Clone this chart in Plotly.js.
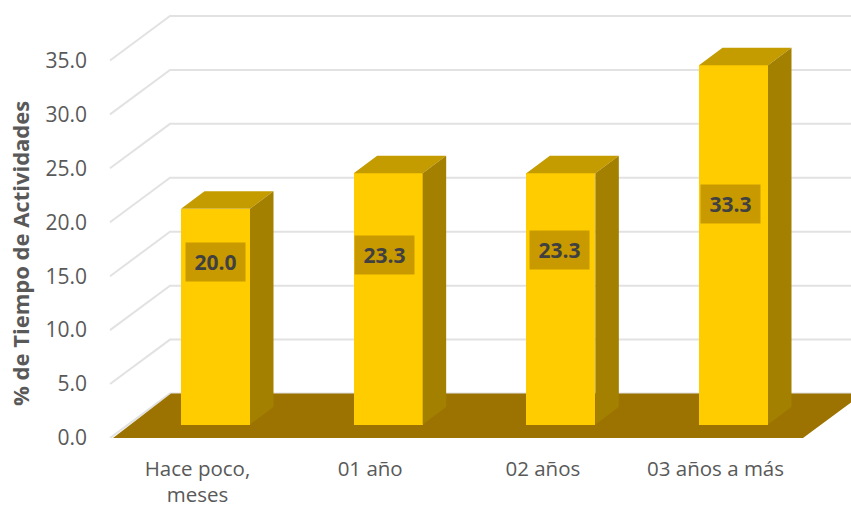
<!DOCTYPE html>
<html>
<head>
<meta charset="utf-8">
<script src="https://cdn.plot.ly/plotly-3.0.1.min.js"></script>
<style>html,body{margin:0;padding:0;background:#fff}#c{width:851px;height:507px}</style>
</head>
<body>
<div id="c"></div>
<script>
const categories = ["Hace poco,<br>meses", "01 año", "02 años", "03 años a más"];
const values = [20.0, 23.3, 23.3, 33.3];
const yTicks = [0, 5, 10, 15, 20, 25, 30, 35];

const pos = categories.map((_, i) => i);
const W = 851, H = 507;
const ml = 108, mt = 8, mb = 68.5;
const pxX = 172.67, pxY = 10.8, x0px = 215.5;
const xr = [(ml - x0px) / pxX, (W - x0px) / pxX];
const yr = [0, (H - mt - mb) / pxY];
const barW = 69 / pxX, barBase = 1.25;
const depX = 23.5 / pxX, depY = 17.5 / pxY;     // bar depth
const wallX = 60 / pxX, wallY = 44.5 / pxY;     // wall depth
const floorL = (113 - x0px) / pxX, floorR = (803 - x0px) / pxX;
const tickShift = -18 / pxX;
const labelDx = [-0.5, -3.5, -1.5, -3.5].map(d => d / pxX);
const labelY = [16.3, 17.0, 17.45, 21.7];

const GRID = "#e2e2e2", TXT = "#595959";
const FONT = "Open Sans, sans-serif";

function poly(xs, ys, color) {
  return {type: "scatter", mode: "lines", x: xs, y: ys, fill: "toself", fillcolor: color,
          line: {width: 0, color: color}, hoverinfo: "skip", showlegend: false};
}

const traces = [{
  type: "bar", x: pos, y: values, base: values.map(() => barBase), width: barW,
  marker: {color: "#ffcc00", line: {width: 0}}, hoverinfo: "skip", showlegend: false
}];
values.forEach((v, i) => {
  const l = pos[i] - barW / 2, r = pos[i] + barW / 2, t = v + barBase;
  traces.push(poly([l, r, r + depX, l + depX, l], [t, t, t + depY, t + depY, t], "#c49c00"));
  traces.push(poly([r, r + depX, r + depX, r, r], [barBase, barBase + depY, t + depY, t, barBase], "#a38000"));
});

const shapes = yTicks.map(t => ({
  type: "path", layer: "below", xref: "x", yref: "y",
  path: `M ${(110 - x0px) / pxX} ${t} L ${(110 - x0px) / pxX + wallX} ${t + wallY} L ${xr[1]} ${t + wallY}`,
  line: {color: GRID, width: 2}, fillcolor: "rgba(0,0,0,0)"
}));
shapes.push({
  type: "path", layer: "below", xref: "x", yref: "y",
  path: `M ${floorL} 0 L ${floorR} 0 L ${floorR + wallX} ${wallY} L ${floorL + wallX - 2 / pxX} ${wallY} Z`,
  fillcolor: "#9c7300", line: {width: 0}
});

const annotations = values.map((v, i) => ({
  xref: "x", yref: "y", x: pos[i] + labelDx[i], y: labelY[i], text: "<b>" + v.toFixed(1) + "</b>",
  showarrow: false, width: 59, height: 38, bgcolor: "#c89a00", borderpad: 0,
  font: {family: FONT, size: 21, color: "#404040"}, align: "center", valign: "middle"
}));
annotations.push({
  xref: "paper", yref: "paper", x: 0, xanchor: "center", xshift: -88, y: 0.428, yanchor: "middle",
  textangle: -90, text: "<b>% de Tiempo de Actividades</b>", showarrow: false,
  font: {family: FONT, size: 22, color: TXT}
});

Plotly.newPlot("c", traces, {
  width: W, height: H, autosize: false,
  margin: {l: ml, r: 0, t: mt, b: mb, pad: 0},
  paper_bgcolor: "#ffffff", plot_bgcolor: "rgba(0,0,0,0)",
  showlegend: false, hovermode: false, bargap: 0,
  font: {family: FONT, color: TXT},
  xaxis: {
    type: "linear", range: xr, tickmode: "array", tickvals: pos.map(p => p + tickShift), ticktext: categories,
    showgrid: false, zeroline: false, showline: false, ticks: "", ticklabelstandoff: 16,
    tickangle: 0, tickfont: {family: FONT, size: 20.5, color: TXT}, automargin: false
  },
  yaxis: {
    range: yr, tickmode: "array", tickvals: yTicks, ticktext: yTicks.map(t => t.toFixed(1)),
    showgrid: false, zeroline: false, showline: false, ticks: "", ticklabelstandoff: 20,
    tickfont: {family: FONT, size: 21, color: TXT}, automargin: false
  },
  shapes, annotations
}, {displayModeBar: false, staticPlot: true});
</script>
</body>
</html>
